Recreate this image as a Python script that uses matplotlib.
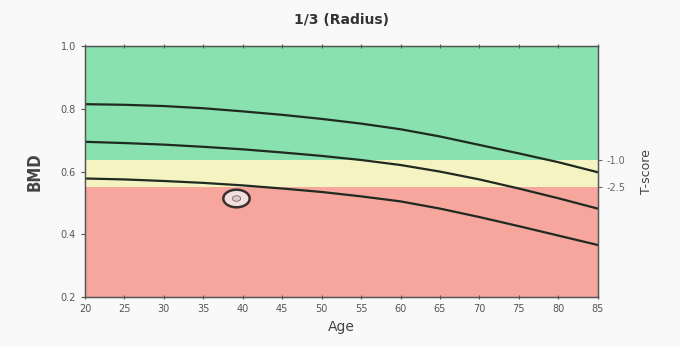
import numpy as np
import matplotlib
matplotlib.use('Agg')
import matplotlib.pyplot as plt
from matplotlib.path import Path

# Reference curves (BMD by age)
ages = [20, 25, 30, 35, 40, 45, 50, 55, 60, 65, 70, 75, 80, 85]
curve_top = [0.815, 0.813, 0.809, 0.802, 0.792, 0.781, 0.768, 0.753, 0.735, 0.712, 0.685, 0.658, 0.630, 0.598]
curve_mid = [0.695, 0.691, 0.686, 0.679, 0.671, 0.661, 0.650, 0.637, 0.621, 0.600, 0.575, 0.546, 0.515, 0.482]
curve_bot = [0.578, 0.575, 0.570, 0.564, 0.556, 0.546, 0.535, 0.521, 0.505, 0.482, 0.455, 0.426, 0.396, 0.366]

# Zone limits (BMD) and their T-score labels
band_edges = [0.2, 0.55, 0.637, 1.0]
tscore_vals = [0.637, 0.55]
tscore_labels = ['-1.0', '-2.5']

# Patient point
patient_age = 39.2
patient_bmd = 0.515

fig = plt.figure(figsize=(6.8, 3.47), dpi=100, facecolor='#f9f9f9')
ax = fig.add_axes([0.125, 0.144, 0.754, 0.723])

ax.axhspan(band_edges[0], band_edges[1], color='#f7a69d', lw=0)
ax.axhspan(band_edges[1], band_edges[2], color='#f6f3c3', lw=0)
ax.axhspan(band_edges[2], band_edges[3], color='#88e1ae', lw=0)

for c in [curve_top, curve_mid, curve_bot]:
    ax.plot(ages, c, color='#1f2a20', lw=1.6)

# wide oval marker for the patient
t = np.linspace(0, 2 * np.pi, 60)
oval = Path(np.column_stack([1.5 * np.cos(t), np.sin(t)]))
ax.plot(patient_age, patient_bmd, marker=oval, ms=19, mfc='#f3dede', mec='#3a3030', mew=1.8, ls='none')
ax.plot(patient_age, patient_bmd, marker=oval, ms=6, mfc='#d8c8c8', mec='#806868', mew=0.6, ls='none')

ax.set_xlim(20, 85)
ax.set_ylim(0.2, 1.0)
ax.set_xticks(range(20, 86, 5))
ax.set_yticks([0.2, 0.4, 0.6, 0.8, 1.0])
ax.set_yticklabels(['0.2', '0.4', '0.6', '0.8', '1.0'])
ax.tick_params(axis='both', labelsize=7, colors='#555555', length=3)
ax.tick_params(axis='x', direction='inout', top=True)
for s in ax.spines.values():
    s.set_color('#555555')
    s.set_linewidth(1.0)

ax.set_title('1/3 (Radius)', fontsize=10, fontweight='bold', color='#333333', pad=16)
ax.set_xlabel('Age', fontsize=10, color='#444444', labelpad=4)
ax.set_ylabel('BMD', fontsize=12, fontweight='bold', fontstretch='condensed',
              color='#444444', labelpad=12)

ax2 = ax.twinx()
ax2.set_ylim(0.2, 1.0)
ax2.set_yticks(tscore_vals)
ax2.set_yticklabels(tscore_labels)
ax2.tick_params(axis='y', labelsize=7, colors='#666666', length=3)
ax2.set_ylabel('T-score', fontsize=9, color='#444444', rotation=90, labelpad=10)
for s in ax2.spines.values():
    s.set_color('#555555')

fig.savefig('out.png', dpi=100, facecolor=fig.get_facecolor())
